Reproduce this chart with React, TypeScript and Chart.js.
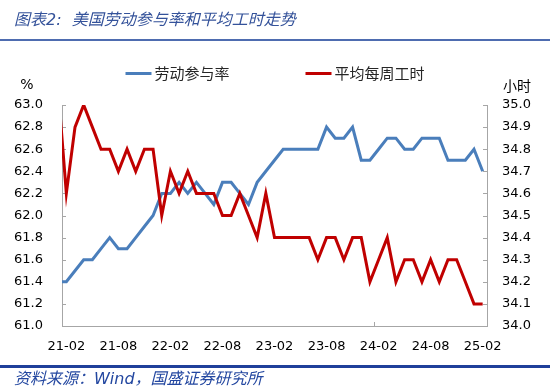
import React, { useEffect, useRef } from 'react';
import { Chart, registerables } from 'chart.js';

Chart.register(...registerables);

const MONTHS = [
  '21-01', '21-02', '21-03', '21-04', '21-05', '21-06', '21-07', '21-08', '21-09', '21-10', '21-11', '21-12',
  '22-01', '22-02', '22-03', '22-04', '22-05', '22-06', '22-07', '22-08', '22-09', '22-10', '22-11', '22-12',
  '23-01', '23-02', '23-03', '23-04', '23-05', '23-06', '23-07', '23-08', '23-09', '23-10', '23-11', '23-12',
  '24-01', '24-02', '24-03', '24-04', '24-05', '24-06', '24-07', '24-08', '24-09', '24-10', '24-11', '24-12',
  '25-01', '25-02',
];

const PARTICIPATION = [
  61.4, 61.4, 61.5, 61.6, 61.6, 61.7, 61.8, 61.7, 61.7, 61.8, 61.9, 62.0,
  62.2, 62.2, 62.3, 62.2, 62.3, 62.2, 62.1, 62.3, 62.3, 62.2, 62.1, 62.3,
  62.4, 62.5, 62.6, 62.6, 62.6, 62.6, 62.6, 62.8, 62.7, 62.7, 62.8, 62.5,
  62.5, 62.6, 62.7, 62.7, 62.6, 62.6, 62.7, 62.7, 62.7, 62.5, 62.5, 62.5,
  62.6, 62.4,
];

const WEEKLY_HOURS = [
  35.1, 34.6, 34.9, 35.0, 34.9, 34.8, 34.8, 34.7, 34.8, 34.7, 34.8, 34.8,
  34.5, 34.7, 34.6, 34.7, 34.6, 34.6, 34.6, 34.5, 34.5, 34.6, 34.5, 34.4,
  34.6, 34.4, 34.4, 34.4, 34.4, 34.4, 34.3, 34.4, 34.4, 34.3, 34.4, 34.4,
  34.2, 34.3, 34.4, 34.2, 34.3, 34.3, 34.2, 34.3, 34.2, 34.3, 34.3, 34.2,
  34.1, 34.1,
];

const FIRST_SHOWN = '21-02';
const LAST_SHOWN = '25-02';
const LABEL_EVERY = 6;

const SERIES_NAMES = ['劳动参与率', '平均每周工时'];
const SERIES_COLORS = ['#4A7EBB', '#C00000'];
const LEFT_UNIT = '%';
const RIGHT_UNIT = '小时';
const TITLE = '图表2:  美国劳动参与率和平均工时走势';
const SOURCE = '资料来源：Wind，国盛证券研究所';

const TICK_FONT = { family: '"DejaVu Sans", Verdana, sans-serif', size: 13 };
const CJK = '"Noto Sans CJK SC", "Noto Sans", sans-serif';

const decorPlugin = {
  id: 'decor',
  beforeDatasetsDraw(chart: any) {
    const { ctx, chartArea: a, scales } = chart;
    ctx.save();
    ctx.strokeStyle = '#A6A6A6';
    ctx.lineWidth = 1;
    ctx.beginPath();
    scales.y.ticks.forEach((t: any) => {
      const y = Math.round(scales.y.getPixelForValue(t.value)) + 0.5;
      ctx.moveTo(a.left, y);
      ctx.lineTo(a.left + 4, y);
    });
    scales.y1.ticks.forEach((t: any) => {
      const y = Math.round(scales.y1.getPixelForValue(t.value)) + 0.5;
      ctx.moveTo(a.right, y);
      ctx.lineTo(a.right - 4, y);
    });
    scales.x.ticks.forEach((t: any, i: number) => {
      if (i % LABEL_EVERY !== 0) return;
      const x = Math.round(scales.x.getPixelForValue(t.value - 0.5)) + 0.5;
      ctx.moveTo(x, a.bottom);
      ctx.lineTo(x, a.bottom - 4);
    });
    ctx.stroke();
    ctx.restore();
  },
  afterDraw(chart: any) {
    const { ctx, scales } = chart;
    ctx.save();
    ctx.fillStyle = '#000';
    ctx.textBaseline = 'middle';
    ctx.textAlign = 'center';
    ctx.font = '14px "DejaVu Sans", sans-serif';
    ctx.fillText(LEFT_UNIT, scales.y.left + 27, 85);
    ctx.font = '14px ' + CJK;
    ctx.fillText(RIGHT_UNIT, scales.y1.left + 30, 86);

    // legend
    const ds = chart.data.datasets;
    ctx.font = '15px ' + CJK;
    ctx.textAlign = 'left';
    const lineW = 26;
    const gapT = 3;
    const gapItems = 76;
    const widths = ds.map((d: any) => lineW + gapT + ctx.measureText(d.label).width);
    const total = widths.reduce((s: number, w: number) => s + w, 0) + gapItems * (ds.length - 1);
    let x = chart.width / 2 - total / 2;
    const y = 73;
    ds.forEach((d: any, i: number) => {
      ctx.strokeStyle = d.borderColor;
      ctx.lineWidth = 3;
      ctx.beginPath();
      ctx.moveTo(x, y + 0.5);
      ctx.lineTo(x + lineW, y + 0.5);
      ctx.stroke();
      ctx.fillStyle = '#262626';
      ctx.fillText(d.label, x + lineW + gapT, y);
      x += widths[i] + gapItems;
    });
    ctx.restore();
  },
};

export default function App() {
  const ref = useRef<HTMLCanvasElement>(null);

  useEffect(() => {
    document.body.style.margin = '0';
    const canvas = ref.current;
    if (!canvas) return;
    const chart = new Chart(canvas, {
      type: 'line',
      data: {
        labels: MONTHS,
        datasets: [
          {
            label: SERIES_NAMES[0],
            data: PARTICIPATION,
            borderColor: SERIES_COLORS[0],
            backgroundColor: SERIES_COLORS[0],
            borderWidth: 3,
            pointRadius: 0,
            tension: 0,
            yAxisID: 'y',
            order: 1,
          },
          {
            label: SERIES_NAMES[1],
            data: WEEKLY_HOURS,
            borderColor: SERIES_COLORS[1],
            backgroundColor: SERIES_COLORS[1],
            borderWidth: 3,
            pointRadius: 0,
            tension: 0,
            yAxisID: 'y1',
            order: 0,
          },
        ],
      },
      options: {
        responsive: false,
        animation: false,
        devicePixelRatio: 1,
        layout: { padding: { top: 105, left: 0, right: 0, bottom: 0 } },
        plugins: {
          legend: { display: false },
          title: { display: false },
          tooltip: { enabled: false },
        },
        scales: {
          x: {
            type: 'category',
            min: FIRST_SHOWN,
            max: LAST_SHOWN,
            offset: true,
            grid: { display: false, drawTicks: false },
            border: { display: true, color: '#A6A6A6', width: 1 },
            ticks: {
              autoSkip: false,
              maxRotation: 0,
              minRotation: 0,
              padding: 13,
              color: '#000',
              font: TICK_FONT,
              callback: function (this: any, value: any, index: number) {
                return index % LABEL_EVERY === 0 ? this.getLabelForValue(value) : null;
              },
            },
            afterFit: (s: any) => { s.height = 65; },
          },
          y: {
            type: 'linear',
            position: 'left',
            min: 61,
            max: 63,
            grid: { display: false, drawTicks: false },
            border: { display: true, color: '#A6A6A6', width: 1 },
            ticks: {
              stepSize: 0.2,
              padding: 19,
              color: '#000',
              font: TICK_FONT,
              callback: (v: any) => Number(v).toFixed(1),
            },
            afterFit: (s: any) => { s.width = 62; },
          },
          y1: {
            type: 'linear',
            position: 'right',
            min: 34,
            max: 35,
            grid: { display: false, drawTicks: false },
            border: { display: true, color: '#A6A6A6', width: 1 },
            ticks: {
              stepSize: 0.1,
              padding: 15,
              color: '#000',
              font: TICK_FONT,
              callback: (v: any) => Number(v).toFixed(1),
            },
            afterFit: (s: any) => { s.width = 63; },
          },
        },
      },
      plugins: [decorPlugin],
    } as any);
    return () => chart.destroy();
  }, []);

  return (
    <div style={{ position: 'relative', width: 550, height: 391, background: '#fff', overflow: 'hidden' }}>
      <canvas ref={ref} width={550} height={391} style={{ position: 'absolute', left: 0, top: 0, width: 550, height: 391 }} />
      <div
        style={{
          position: 'absolute', left: 14, top: 9, height: 22, lineHeight: '22px', whiteSpace: 'pre',
          fontFamily: '"DejaVu Sans", ' + CJK, fontStyle: 'italic', fontSize: 16, color: '#34529A',
        }}
      >
        {TITLE}
      </div>
      <div style={{ position: 'absolute', left: 0, top: 39, width: 550, height: 0, borderTop: '2px solid #4E6CB0' }} />
      <div style={{ position: 'absolute', left: 0, top: 365, width: 550, height: 0, borderTop: '3px solid #1F3F9A' }} />
      <div
        style={{
          position: 'absolute', left: 14, top: 368, height: 22, lineHeight: '22px', whiteSpace: 'pre',
          fontFamily: '"DejaVu Sans", ' + CJK, fontStyle: 'italic', fontSize: 16, color: '#2347A0',
        }}
      >
        {SOURCE}
      </div>
    </div>
  );
}
